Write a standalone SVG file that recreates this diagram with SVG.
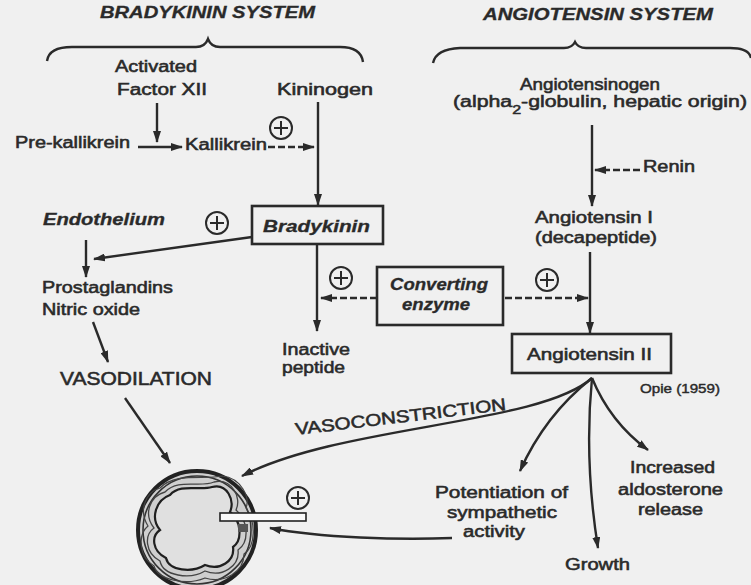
<svg xmlns="http://www.w3.org/2000/svg" width="751" height="585" viewBox="0 0 751 585">
  <style>
    .t { font-family: "Liberation Sans", Arial, Helvetica, sans-serif; font-size: 16px; fill: #2a2a2a; stroke: #2a2a2a; stroke-width: 0.55; }
    .bi { font-weight: bold; font-style: italic; stroke-width: 0.3; }
    .hd { font-weight: bold; font-style: italic; font-size: 16px; stroke-width: 0.3; }
    .ln { fill: none; stroke: #2a2a2a; stroke-width: 2.4; }
    .dash { stroke-dasharray: 7 3; }
    .box { fill: none; stroke: #2a2a2a; stroke-width: 2.6; }
    .plus circle { fill: none; stroke: #2a2a2a; stroke-width: 2; }
    .plus path { fill: none; stroke: #2a2a2a; stroke-width: 2; }
  </style>
  <defs>
    <marker id="ah" viewBox="0 0 12 8" markerWidth="12" markerHeight="8" refX="11" refY="4" orient="auto" markerUnits="userSpaceOnUse">
      <path d="M0,0 L12,4 L0,8 z" fill="#2a2a2a"/>
    </marker>
    <g id="plusSign" class="plus">
      <circle cx="0" cy="0" r="11"/>
      <path d="M-7,0 H7 M0,-7 V7"/>
    </g>
  </defs>

  <rect width="751" height="585" fill="#f0f0f0"/>

  <!-- section headings and braces -->
  <g id="bradykinin-system">
    <text class="t hd" x="100" y="18" textLength="215" lengthAdjust="spacingAndGlyphs">BRADYKININ SYSTEM</text>
    <path class="ln" d="M47,61 Q49,47 72,47 L196,47 Q205,47 208,39 Q211,47 220,47 L340,47 Q361,47 363,62"/>
  </g>
  <g id="angiotensin-system">
    <text class="t hd" x="483" y="20" textLength="230" lengthAdjust="spacingAndGlyphs">ANGIOTENSIN SYSTEM</text>
    <path class="ln" d="M433,63 Q436,49 460,48 L564,48 Q572,48 575,42 Q578,48 586,48 L730,48 Q749,48 751,58"/>
  </g>

  <!-- bradykinin side nodes -->
  <g id="factor-xii">
    <text class="t" x="115" y="72" textLength="82" lengthAdjust="spacingAndGlyphs">Activated</text>
    <text class="t" x="117" y="95" textLength="90" lengthAdjust="spacingAndGlyphs">Factor XII</text>
  </g>
  <g id="kininogen">
    <text class="t" x="277" y="95" textLength="96" lengthAdjust="spacingAndGlyphs">Kininogen</text>
  </g>
  <g id="prekallikrein">
    <text class="t" x="15" y="148" textLength="115" lengthAdjust="spacingAndGlyphs">Pre-kallikrein</text>
  </g>
  <g id="kallikrein">
    <text class="t" x="185" y="150" textLength="82" lengthAdjust="spacingAndGlyphs">Kallikrein</text>
  </g>
  <g id="bradykinin">
    <rect class="box" x="252" y="206" width="131" height="38"/>
    <text class="t bi" x="263" y="232" textLength="107" lengthAdjust="spacingAndGlyphs">Bradykinin</text>
  </g>
  <g id="endothelium">
    <text class="t bi" x="43" y="225" textLength="122" lengthAdjust="spacingAndGlyphs">Endothelium</text>
  </g>
  <g id="prostaglandins">
    <text class="t" x="42" y="293" textLength="131" lengthAdjust="spacingAndGlyphs">Prostaglandins</text>
    <text class="t" x="42" y="315" textLength="98" lengthAdjust="spacingAndGlyphs">Nitric oxide</text>
  </g>
  <g id="vasodilation">
    <text class="t" x="60" y="385" textLength="152" lengthAdjust="spacingAndGlyphs" style="font-size:18px">VASODILATION</text>
  </g>
  <g id="inactive-peptide">
    <text class="t" x="282" y="355" textLength="68" lengthAdjust="spacingAndGlyphs">Inactive</text>
    <text class="t" x="282" y="373" textLength="63" lengthAdjust="spacingAndGlyphs">peptide</text>
  </g>
  <g id="converting-enzyme">
    <rect class="box" x="377" y="267" width="126" height="58"/>
    <text class="t bi" x="390" y="290" textLength="98" lengthAdjust="spacingAndGlyphs">Converting</text>
    <text class="t bi" x="402" y="310" textLength="68" lengthAdjust="spacingAndGlyphs">enzyme</text>
  </g>

  <!-- angiotensin side nodes -->
  <g id="angiotensinogen">
    <text class="t" x="520" y="90" textLength="140" lengthAdjust="spacingAndGlyphs">Angiotensinogen</text>
    <text class="t" x="453" y="107" textLength="294" lengthAdjust="spacingAndGlyphs">(alpha<tspan dy="7" style="font-size:12px">2</tspan><tspan dy="-7">-globulin, hepatic origin)</tspan></text>
  </g>
  <g id="renin">
    <text class="t" x="643" y="172" textLength="52" lengthAdjust="spacingAndGlyphs">Renin</text>
  </g>
  <g id="angiotensin-i">
    <text class="t" x="535" y="223" textLength="118" lengthAdjust="spacingAndGlyphs">Angiotensin I</text>
    <text class="t" x="535" y="243" textLength="122" lengthAdjust="spacingAndGlyphs">(decapeptide)</text>
  </g>
  <g id="angiotensin-ii">
    <rect class="box" x="512" y="334" width="159" height="39"/>
    <text class="t" x="527" y="360" textLength="125" lengthAdjust="spacingAndGlyphs">Angiotensin II</text>
  </g>
  <g id="citation">
    <text class="t" x="640" y="393" textLength="80" lengthAdjust="spacingAndGlyphs" style="font-size:12px;stroke-width:0.4">Opie (1959)</text>
  </g>
  <g id="sympathetic">
    <text class="t" x="435" y="498" textLength="133" lengthAdjust="spacingAndGlyphs">Potentiation of</text>
    <text class="t" x="447" y="518" textLength="110" lengthAdjust="spacingAndGlyphs">sympathetic</text>
    <text class="t" x="463" y="537" textLength="62" lengthAdjust="spacingAndGlyphs">activity</text>
  </g>
  <g id="aldosterone">
    <text class="t" x="630" y="473" textLength="85" lengthAdjust="spacingAndGlyphs">Increased</text>
    <text class="t" x="618" y="495" textLength="105" lengthAdjust="spacingAndGlyphs">aldosterone</text>
    <text class="t" x="638" y="515" textLength="65" lengthAdjust="spacingAndGlyphs">release</text>
  </g>
  <g id="growth">
    <text class="t" x="565" y="570" textLength="65" lengthAdjust="spacingAndGlyphs">Growth</text>
  </g>

  <!-- blood vessel in cross-section with a nerve terminal -->
  <g id="vessel">
    <circle cx="197" cy="530" r="59" fill="#cfcfcf" stroke="#222" stroke-width="4"/>
    <circle cx="197" cy="530" r="54" fill="none" stroke="#333" stroke-width="1.6"/>
    <path d="M160,488 C175,472 205,480 222,476 C242,478 250,498 246,508 C256,522 256,546 244,554 C244,572 224,584 205,578 C186,586 158,580 154,566 C138,556 138,534 148,526 C138,510 146,492 160,488 Z" fill="none" stroke="#444" stroke-width="1.2"/>
    <path d="M165,492 C178,478 200,488 214,482 C232,478 242,498 236,510 C248,520 250,542 238,550 C240,566 222,578 205,571 C190,580 163,576 160,561 C145,553 144,535 154,528 C143,514 150,496 165,492 Z" fill="none" stroke="#444" stroke-width="1.3"/>
    <path d="M170,495 C180,483 200,491 212,487 C227,483 235,500 230,512 C241,520 243,540 233,547 C235,561 220,571 205,565 C192,573 169,571 166,558 C152,551 151,536 160,530 C150,518 156,500 170,495 Z" fill="#e0e0e0" stroke="#1f1f1f" stroke-width="2.2"/>
    <rect x="220" y="513" width="86" height="8" fill="#fafafa" stroke="#222" stroke-width="1.6"/>
    <rect x="238" y="524" width="10" height="8" fill="#555"/>
  </g>

  <!-- activation signs -->
  <g id="plus-kallikrein"><use href="#plusSign" x="281" y="128"/></g>
  <g id="plus-endothelium"><use href="#plusSign" x="217" y="223"/></g>
  <g id="plus-bradykinin"><use href="#plusSign" x="341" y="278"/></g>
  <g id="plus-angiotensin"><use href="#plusSign" x="547" y="280"/></g>
  <g id="plus-nerve"><use href="#plusSign" x="298" y="498"/></g>

  <g id="connectors" class="ln">
    <line x1="157" y1="103" x2="157" y2="142" marker-end="url(#ah)"/>
    <line x1="138" y1="147" x2="182" y2="147" marker-end="url(#ah)"/>
    <line class="dash" x1="268" y1="147" x2="314" y2="147" marker-end="url(#ah)"/>
    <line x1="318" y1="102" x2="318" y2="205" marker-end="url(#ah)"/>
    <line x1="252" y1="237" x2="94" y2="259" marker-end="url(#ah)"/>
    <line x1="86" y1="240" x2="86" y2="277" marker-end="url(#ah)"/>
    <line x1="93" y1="322" x2="108" y2="362" marker-end="url(#ah)"/>
    <line x1="317" y1="245" x2="317" y2="331" marker-end="url(#ah)"/>
    <line class="dash" x1="377" y1="298" x2="321" y2="298" marker-end="url(#ah)"/>
    <line class="dash" x1="505" y1="298" x2="588" y2="298" marker-end="url(#ah)"/>
    <line x1="592" y1="125" x2="592" y2="206" marker-end="url(#ah)"/>
    <line class="dash" x1="640" y1="170" x2="595" y2="170" marker-end="url(#ah)"/>
    <line x1="590" y1="252" x2="590" y2="333" marker-end="url(#ah)"/>
    <line x1="125" y1="398" x2="170" y2="463" marker-end="url(#ah)"/>
    <path d="M592,378 C540,425 340,425 242,476" marker-end="url(#ah)"/>
    <path d="M592,378 Q545,415 520,471" marker-end="url(#ah)"/>
    <path d="M592,378 Q584,460 598,548" marker-end="url(#ah)"/>
    <path d="M592,378 Q610,422 648,450" marker-end="url(#ah)"/>
    <path d="M452,538 C400,540 320,538 270,528" marker-end="url(#ah)"/>
  </g>

  <g id="vasoconstriction-label">
    <text class="t" x="296" y="435" transform="rotate(-6.8 296 435)" textLength="212" lengthAdjust="spacingAndGlyphs" style="font-size:17px">VASOCONSTRICTION</text>
  </g>
</svg>
